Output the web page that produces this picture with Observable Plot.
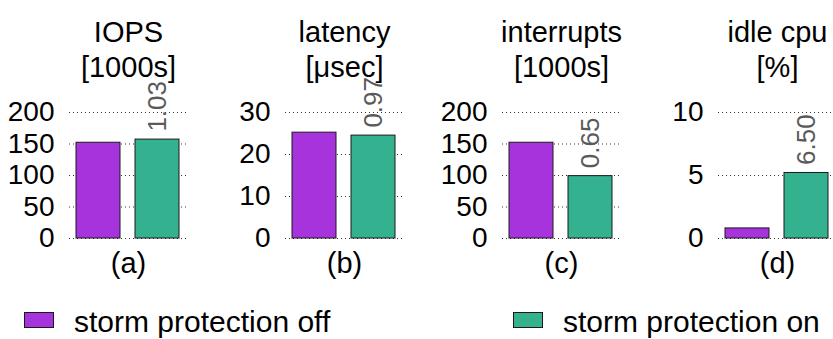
<!DOCTYPE html>
<html>
<head>
<meta charset="utf-8">
<script src="https://cdn.jsdelivr.net/npm/d3@7"></script>
<script src="https://cdn.jsdelivr.net/npm/@observablehq/plot@0.6"></script>
<style>
  html, body { margin: 0; padding: 0; background: #fff; }
  #root { position: relative; width: 833px; height: 339px; overflow: hidden; font-family: "Liberation Sans", Arial, Helvetica, sans-serif; }
  .panel { position: absolute; top: 0; width: 216px; height: 290px; }
  .panel svg { overflow: visible; max-width: none !important; width: 216px; height: 290px; }
  .sw { position: absolute; width: 28px; height: 14px; border: 1px solid #1a1a1a; top: 312px; }
  .lt { position: absolute; font-size: 30px; line-height: 30px; top: 307px; color: #000; white-space: nowrap; }
</style>
</head>
<body>
<div id="root"></div>
<script>
// ---- data ----
const panelLabels = ["(a)", "(b)", "(c)", "(d)"];
const titleLine1 = ["IOPS", "latency", "interrupts", "idle cpu"];
const titleLine2 = ["[1000s]", "[\u03bcsec]", "[1000s]", "[%]"];
const series = ["storm protection off", "storm protection on"];
const offValues = [152, 25.2, 152, 0.8];
const onValues = [157, 24.5, 99, 5.2];
const ratioLabels = ["1.03", "0.97", "0.65", "6.50"];
const yMax = [200, 30, 200, 10];
const yTicks = [[0, 50, 100, 150, 200], [0, 10, 20, 30], [0, 50, 100, 150, 200], [0, 5, 10]];
const colors = ["#a633db", "#34b18f"];

// ---- layout ----
const root = document.getElementById("root");
const lefts = [0, 216, 433, 649];
const font = '"Liberation Sans", Arial, Helvetica, sans-serif';

panelLabels.forEach((lab, i) => {
  const rows = [
    {s: series[0], v: offValues[i]},
    {s: series[1], v: onValues[i]}
  ];
  const chart = Plot.plot({
    width: 216,
    height: 290,
    marginLeft: 69,
    marginRight: 29,
    marginTop: 112,
    marginBottom: 52,
    style: {fontFamily: font, background: "transparent", overflow: "visible", maxWidth: "none"},
    x: {domain: series, paddingInner: 0.25, paddingOuter: 0.12, axis: null},
    y: {domain: [0, yMax[i]], axis: null},
    color: {domain: series, range: colors},
    marks: [
      Plot.ruleY(yTicks[i], {stroke: "#333", strokeDasharray: "1,3", strokeWidth: 1.2}),
      Plot.barY(rows, {x: "s", y: "v", fill: "s", stroke: "#1a1a1a", strokeWidth: 1}),
      Plot.text([rows[1]], {x: "s", y: "v", text: () => ratioLabels[i], rotate: -90, textAnchor: "start", lineAnchor: "middle", dy: -8, fill: "#5a5a5a", fontSize: 26}),
      Plot.axisY({ticks: yTicks[i], tickSize: 0, tickPadding: 15, fontSize: 28, label: null, tickFormat: d => String(d)}),
      Plot.text([titleLine1[i]], {frameAnchor: "top", dy: -91, fontSize: 29, fill: "#000"}),
      Plot.text([titleLine2[i]], {frameAnchor: "top", dy: -56, fontSize: 29, fill: "#000"}),
      Plot.text([lab], {frameAnchor: "bottom", dy: 34, fontSize: 29, fill: "#000"})
    ]
  });
  const wrap = document.createElement("div");
  wrap.className = "panel";
  wrap.style.left = lefts[i] + "px";
  wrap.appendChild(chart);
  root.appendChild(wrap);
});

// ---- legend ----
const legendSw = [24, 513];
const legendTx = [74, 563];
series.forEach((s, k) => {
  const sw = document.createElement("div");
  sw.className = "sw";
  sw.style.left = legendSw[k] + "px";
  sw.style.background = colors[k];
  root.appendChild(sw);
  const t = document.createElement("div");
  t.className = "lt";
  t.style.left = legendTx[k] + "px";
  t.textContent = s;
  root.appendChild(t);
});
</script>
</body>
</html>
